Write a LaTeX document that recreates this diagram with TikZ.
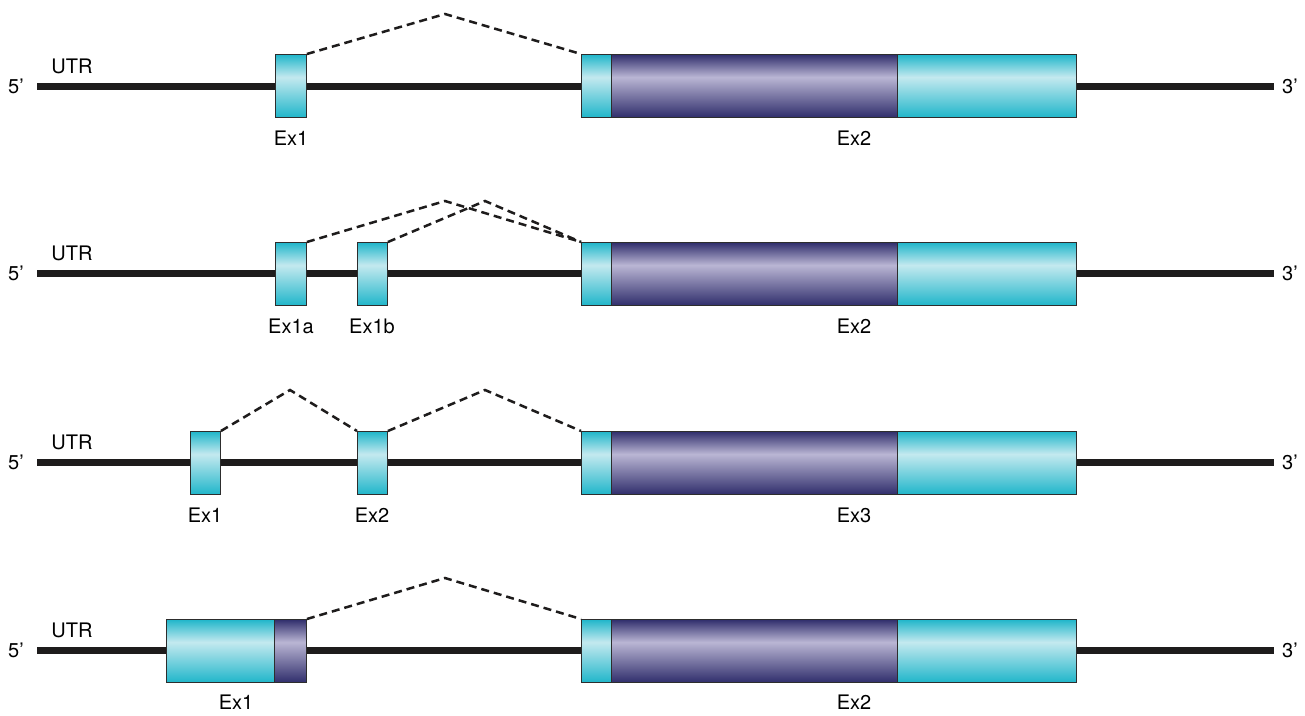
\documentclass[tikz,border=0pt]{standalone}
\usepackage{fontspec}
\setmainfont{TeX Gyre Heros}
\usetikzlibrary{calc}
\definecolor{cyanD}{RGB}{32,182,202}
\definecolor{cyanL}{RGB}{196,233,239}
\definecolor{purD}{RGB}{48,46,108}
\definecolor{purL}{RGB}{186,182,212}
\definecolor{outl}{RGB}{45,45,45}
\definecolor{bb}{RGB}{30,28,28}
\pgfdeclareverticalshading{cyanex}{100bp}{color(0bp)=(cyanD); color(25bp)=(cyanD); color(57bp)=(cyanL); color(75bp)=(cyanD); color(100bp)=(cyanD)}
\pgfdeclareverticalshading{purex}{100bp}{color(0bp)=(purD); color(25bp)=(purD); color(57bp)=(purL); color(75bp)=(purD); color(100bp)=(purD)}
\tikzset{
  exbase/.style={draw=outl, line width=0.9pt, inner sep=0pt, minimum height=63pt, anchor=north west},
  exc/.style={exbase, shading=cyanex},
  exp/.style={exbase, shading=purex},
  backbone/.style={draw=bb, line width=7pt},
  splice/.style={draw=bb, line width=2.5pt, dash pattern=on 8pt off 5pt},
  lbl/.style={font=\fontsize{20}{22}\selectfont, inner sep=0pt},
}
\newcommand{\exon}[5]{\node[#2, minimum width={(#4-#3)*1pt}] (#1) at (#3,#5) {};}
\begin{document}
\begin{tikzpicture}[x=1pt,y=-1pt]
\useasboundingbox[fill=white] (0,0) rectangle (1305,715);
% ---------- Row 1 ----------
\coordinate (a1s) at (37,86); \coordinate (a1e) at (1274,86);
\draw[backbone] (a1s) -- (a1e);
\node[lbl] (a5) at (16,86) {5’};
\node[lbl] (a3) at (1290,86) {3’};
\node[lbl] (autr) at (72,66) {UTR};
\exon{a1}{exc}{275}{306}{54}
\exon{a2a}{exc}{581}{611}{54}
\exon{a2b}{exp}{611}{897}{54}
\exon{a2c}{exc}{897}{1076}{54}
\node[lbl] (la1) at (291,138) {Ex1};
\node[lbl] (la2) at (854,138) {Ex2};
\coordinate (ap1) at (445,14);
\draw[splice] (a1.north east) -- (ap1) -- (a2a.north west);
% ---------- Row 2 ----------
\coordinate (b1s) at (37,273); \coordinate (b1e) at (1274,273);
\draw[backbone] (b1s) -- (b1e);
\node[lbl] (b5) at (16,273) {5’};
\node[lbl] (b3) at (1290,273) {3’};
\node[lbl] (butr) at (72,253) {UTR};
\exon{b1a}{exc}{275}{306}{242}
\exon{b1b}{exc}{357}{387}{242}
\exon{b2a}{exc}{581}{611}{242}
\exon{b2b}{exp}{611}{897}{242}
\exon{b2c}{exc}{897}{1076}{242}
\node[lbl] (lb1a) at (291,326) {Ex1a};
\node[lbl] (lb1b) at (372,326) {Ex1b};
\node[lbl] (lb2) at (854,326) {Ex2};
\coordinate (bp1) at (445,201);
\coordinate (bp2) at (485,201);
\draw[splice] (b1a.north east) -- (bp1) -- (b2a.north west);
\draw[splice] (b1b.north east) -- (bp2) -- (b2a.north west);
% ---------- Row 3 ----------
\coordinate (c1s) at (37,462); \coordinate (c1e) at (1274,462);
\draw[backbone] (c1s) -- (c1e);
\node[lbl] (c5) at (16,462) {5’};
\node[lbl] (c3) at (1290,462) {3’};
\node[lbl] (cutr) at (72,442) {UTR};
\exon{c1}{exc}{190}{220}{431}
\exon{c2}{exc}{357}{387}{431}
\exon{c3a}{exc}{581}{611}{431}
\exon{c3b}{exp}{611}{897}{431}
\exon{c3c}{exc}{897}{1076}{431}
\node[lbl] (lc1) at (205,515) {Ex1};
\node[lbl] (lc2) at (372,515) {Ex2};
\node[lbl] (lc3) at (854,515) {Ex3};
\coordinate (cp1) at (290,390);
\coordinate (cp2) at (485,390);
\draw[splice] (c1.north east) -- (cp1) -- (c2.north west);
\draw[splice] (c2.north east) -- (cp2) -- (c3a.north west);
% ---------- Row 4 ----------
\coordinate (d1s) at (37,650); \coordinate (d1e) at (1274,650);
\draw[backbone] (d1s) -- (d1e);
\node[lbl] (d5) at (16,650) {5’};
\node[lbl] (d3) at (1290,650) {3’};
\node[lbl] (dutr) at (72,630) {UTR};
\exon{d1a}{exc}{166}{274}{619}
\exon{d1b}{exp}{274}{306}{619}
\exon{d2a}{exc}{581}{611}{619}
\exon{d2b}{exp}{611}{897}{619}
\exon{d2c}{exc}{897}{1076}{619}
\node[lbl] (ld1) at (236,702) {Ex1};
\node[lbl] (ld2) at (854,702) {Ex2};
\coordinate (dp1) at (445,578);
\draw[splice] (d1b.north east) -- (dp1) -- (d2a.north west);
\end{tikzpicture}
\end{document}
